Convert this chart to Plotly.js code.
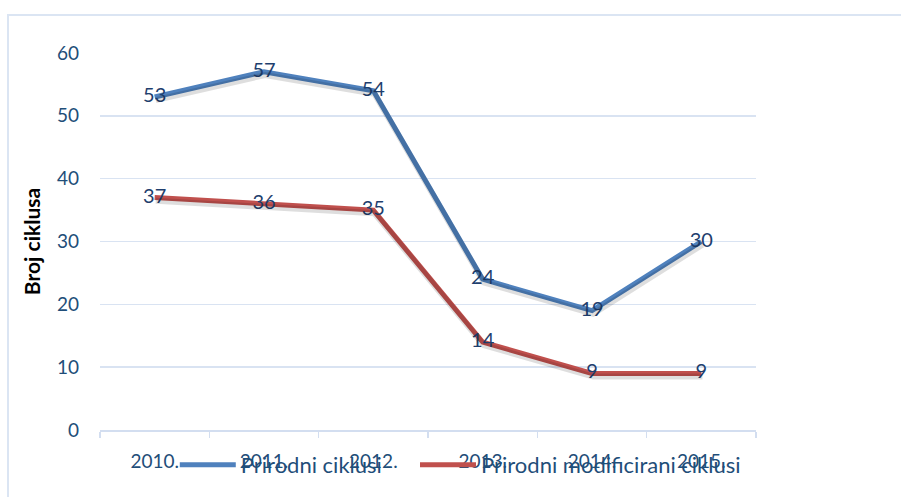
<!DOCTYPE html>
<html>
<head>
<meta charset="utf-8">
<script src="https://cdn.plot.ly/plotly-3.0.1.min.js"></script>
<style>
  html, body { margin: 0; padding: 0; background: #ffffff; }
  #wrap { position: relative; width: 901px; height: 497px; overflow: hidden; }
  #chart { position: absolute; left: 0; top: 0; width: 901px; height: 497px; }
  #frame { position: absolute; left: 7px; top: 14px; width: 920px; height: 520px;
           border: 2px solid #dbe5f3; pointer-events: none; box-sizing: border-box; }
</style>
</head>
<body>
<div id="wrap">
  <div id="chart"></div>
  <div id="frame"></div>
</div>
<script>
const years = ["2010.", "2011.", "2012.", "2013.", "2014.", "2015."];
const prirodni = [53, 57, 54, 24, 19, 30];
const modificirani = [37, 36, 35, 14, 9, 9];
const seriesNames = ["Prirodni ciklusi", "Prirodni modificirani ciklusi"];
const yTicks = [0, 10, 20, 30, 40, 50, 60];

const FONT = "Lato, 'Open Sans', sans-serif";
const labelColor = "#1f3f6e";
const tickColor = "#1f4e79";
const GAP = "\u00a0".repeat(5);

function shadow(y) {
  return {
    x: years, y: y, type: "scatter", mode: "lines",
    xaxis: "x2", yaxis: "y2",
    line: { color: "rgba(0,0,0,0.13)", width: 6 },
    hoverinfo: "skip", showlegend: false
  };
}

const traces = [
  shadow(prirodni),
  shadow(modificirani),
  {
    x: years, y: prirodni, name: seriesNames[0] + GAP, type: "scatter", mode: "lines+text",
    text: prirodni.map(String), textposition: "middle center",
    textfont: { family: FONT, size: 20, color: labelColor },
    line: { color: "#4f81bd", width: 5 }
  },
  {
    x: years, y: modificirani, name: seriesNames[1], type: "scatter", mode: "lines+text",
    text: modificirani.map(String), textposition: "middle center",
    textfont: { family: FONT, size: 20, color: labelColor },
    line: { color: "#c0504d", width: 5 }
  }
];

const layout = {
  width: 901, height: 497,
  margin: { l: 100, r: 145, t: 53, b: 66 },
  paper_bgcolor: "rgba(0,0,0,0)",
  plot_bgcolor: "rgba(0,0,0,0)",
  font: { family: FONT, size: 19, color: tickColor },
  showlegend: true,
  legend: {
    orientation: "h", x: 0.114, xanchor: "left", y: -0.09, yanchor: "middle",
    font: { family: FONT, size: 22, color: tickColor },
    bgcolor: "rgba(0,0,0,0)", itemwidth: 56, traceorder: "normal"
  },
  xaxis: {
    type: "category", categoryorder: "array", categoryarray: years,
    range: [-0.5, 5.5], tickson: "boundaries",
    showgrid: false, zeroline: false,
    showline: true, linecolor: "#d3def0", linewidth: 1.5,
    ticks: "outside", ticklen: 6, tickcolor: "#d3def0", tickwidth: 1.5,
    tickfont: { family: FONT, size: 19, color: tickColor },
    ticklabelstandoff: 14
  },
  yaxis: {
    range: [0, 60], tickvals: yTicks, ticktext: yTicks.map(String),
    showgrid: true, gridcolor: "#d9e3f2", gridwidth: 1.5,
    zeroline: false, showline: false, ticks: "",
    tickfont: { family: FONT, size: 19, color: tickColor },
    ticklabelstandoff: 20,
    title: { text: "Broj ciklusa", font: { family: FONT, size: 21, color: "#000000", weight: "bold" }, standoff: 10 }
  },
  xaxis2: {
    type: "category", categoryorder: "array", categoryarray: years,
    range: [-0.51, 5.49], overlaying: "x", visible: false
  },
  yaxis2: {
    range: [0.5, 60.5], overlaying: "y", visible: false
  }
};

Plotly.newPlot("chart", traces, layout, { displayModeBar: false, staticPlot: true });
</script>
</body>
</html>
